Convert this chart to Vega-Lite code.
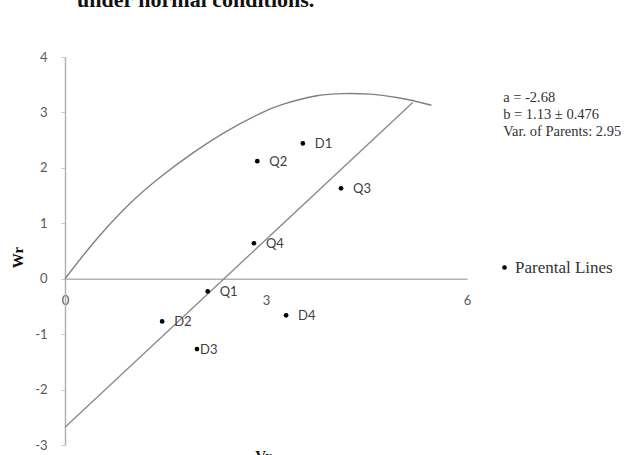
{
  "$schema": "https://vega.github.io/schema/vega-lite/v6.json",
  "width": 402,
  "height": 388,
  "autosize": "none",
  "padding": {"left": 65, "top": 57, "right": 171, "bottom": 10},
  "background": "white",
  "title": {
    "text": "under  normal conditions.",
    "anchor": "start",
    "frame": "group",
    "dx": 12,
    "offset": 22,
    "font": "Liberation Serif",
    "fontSize": 22,
    "fontWeight": "bold",
    "color": "#111111",
    "baseline": "alphabetic"
  },
  "config": {
    "view": {"stroke": null},
    "axis": {"grid": false}
  },
  "datasets": {
    "parents": [
      {"line": "D1", "vr": 3.55, "wr": 2.44},
      {"line": "Q2", "vr": 2.87, "wr": 2.12},
      {"line": "Q3", "vr": 4.12, "wr": 1.63},
      {"line": "Q4", "vr": 2.82, "wr": 0.64},
      {"line": "Q1", "vr": 2.13, "wr": -0.23},
      {"line": "D2", "vr": 1.45, "wr": -0.77},
      {"line": "D3", "vr": 1.97, "wr": -1.27},
      {"line": "D4", "vr": 3.30, "wr": -0.66}
    ],
    "limitCurve": [
      {"vr": 0, "wr": 0},
      {"vr": 0.42, "wr": 0.64},
      {"vr": 0.92, "wr": 1.30},
      {"vr": 1.42, "wr": 1.83},
      {"vr": 1.91, "wr": 2.27},
      {"vr": 2.41, "wr": 2.66},
      {"vr": 2.91, "wr": 2.98},
      {"vr": 3.26, "wr": 3.15},
      {"vr": 3.76, "wr": 3.30},
      {"vr": 4.15, "wr": 3.34},
      {"vr": 4.55, "wr": 3.33},
      {"vr": 4.95, "wr": 3.27},
      {"vr": 5.20, "wr": 3.21},
      {"vr": 5.47, "wr": 3.13}
    ],
    "regression": [
      {"vr": 0, "wr": -2.68},
      {"vr": 5.19, "wr": 3.18}
    ]
  },
  "layer": [
    {
      "data": {"name": "limitCurve"},
      "mark": {"type": "line", "interpolate": "natural", "color": "#808080", "strokeWidth": 1.4},
      "encoding": {
        "x": {
          "field": "vr",
          "type": "quantitative",
          "scale": {"domain": [0, 6], "nice": false, "zero": false},
          "axis": {
            "title": "Vr",
            "titleFont": "Liberation Serif",
            "titleFontSize": 15,
            "titleFontWeight": "bold",
            "titleColor": "#111111",
            "titleX": 198,
            "titleY": 170,
            "titleBaseline": "top",
            "offset": -166.3,
            "values": [0, 3, 6],
            "labelExpr": "'' + datum.value",
            "labelFlush": false,
            "ticks": false,
            "labelPadding": 16,
            "labelFont": "Lato",
            "labelFontSize": 13,
            "labelColor": "#595959",
            "domainColor": "#b3b3b3",
            "domainWidth": 1.5
          }
        },
        "y": {
          "field": "wr",
          "type": "quantitative",
          "scale": {"domain": [-3, 4], "nice": false, "zero": false},
          "axis": {
            "title": "Wr",
            "titleFont": "Liberation Serif",
            "titleFontSize": 15,
            "titleFontWeight": "bold",
            "titleColor": "#111111",
            "titleX": -48,
            "titleY": 200,
            "titleBaseline": "middle",
            "values": [-3, -2, -1, 0, 1, 2, 3, 4],
            "labelExpr": "'' + datum.value",
            "labelFlush": false,
            "ticks": true,
            "tickSize": 4,
            "tickColor": "#c8c8c8",
            "labelPadding": 14,
            "labelFont": "Lato",
            "labelFontSize": 13,
            "labelColor": "#595959",
            "domainColor": "#b3b3b3",
            "domainWidth": 1.5
          }
        }
      }
    },
    {
      "data": {"name": "regression"},
      "mark": {"type": "line", "color": "#8c8c8c", "strokeWidth": 1.4},
      "encoding": {
        "x": {"field": "vr", "type": "quantitative"},
        "y": {"field": "wr", "type": "quantitative"}
      }
    },
    {
      "data": {"name": "parents"},
      "mark": {"type": "point", "filled": true, "opacity": 1, "size": 22},
      "encoding": {
        "x": {"field": "vr", "type": "quantitative"},
        "y": {"field": "wr", "type": "quantitative"},
        "color": {
          "datum": "Parental Lines",
          "scale": {"range": ["#000000"]},
          "legend": {
            "title": null,
            "orient": "none",
            "legendX": 431,
            "legendY": 202,
            "symbolSize": 22,
            "symbolType": "circle",
            "labelFont": "Liberation Serif",
            "labelFontSize": 17,
            "labelColor": "#333333",
            "labelOffset": 2
          }
        }
      }
    },
    {
      "data": {"name": "parents"},
      "transform": [{"filter": "datum.line !== 'D3'"}],
      "mark": {"type": "text", "align": "left", "baseline": "middle", "dx": 12, "dy": 1, "font": "Lato", "fontSize": 13, "color": "#404040"},
      "encoding": {
        "x": {"field": "vr", "type": "quantitative"},
        "y": {"field": "wr", "type": "quantitative"},
        "text": {"field": "line"}
      }
    },
    {
      "data": {"name": "parents"},
      "transform": [{"filter": "datum.line === 'D3'"}],
      "mark": {"type": "text", "align": "left", "baseline": "middle", "dx": 3, "dy": 1, "font": "Lato", "fontSize": 13, "color": "#404040"},
      "encoding": {
        "x": {"field": "vr", "type": "quantitative"},
        "y": {"field": "wr", "type": "quantitative"},
        "text": {"field": "line"}
      }
    },
    {
      "data": {"values": [{}]},
      "mark": {
        "type": "text",
        "align": "left",
        "baseline": "middle",
        "font": "Liberation Serif",
        "fontSize": 14.5,
        "lineHeight": 17,
        "color": "#333333",
        "text": ["a = -2.68", "b = 1.13 ± 0.476", "Var. of Parents: 2.95"]
      },
      "encoding": {
        "x": {"datum": 6.54},
        "y": {"datum": 3.26}
      }
    }
  ]
}
